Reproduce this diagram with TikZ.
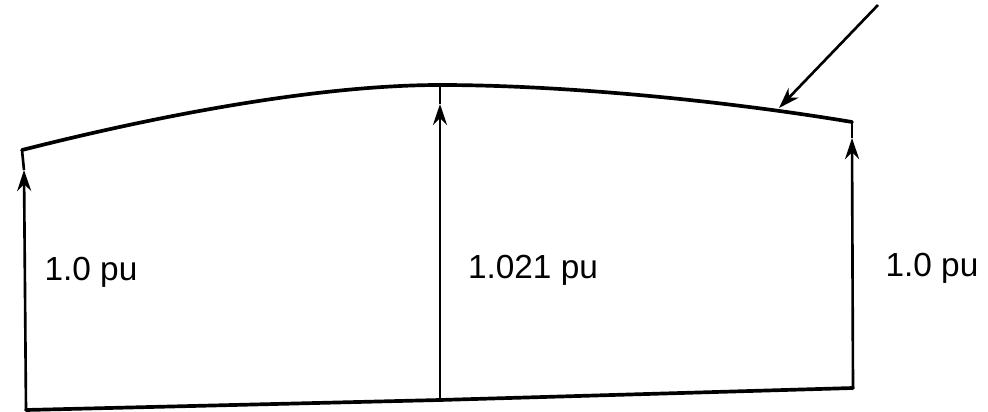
\documentclass[tikz,border=0pt]{standalone}
\usepackage{fontspec}
\setmainfont{Liberation Sans}
\usetikzlibrary{arrows.meta}
\tikzset{
	trait/.style={line width=2.1pt,line join=round,line cap=round},
	fleche/.style={line width=1.5pt,-{Stealth[length=12pt,width=8pt]}},
	etiq/.style={font=\fontsize{19}{21}\selectfont,inner sep=0pt}
}
\begin{document}
\begin{tikzpicture}[x=0.02cm,y=-0.02cm]
	\useasboundingbox (0,0) rectangle (988,412);
	% Points du bas
	\coordinate (bg) at (26,410); \coordinate (bm) at (440,400); \coordinate (bd) at (853,388);
	% Points du haut
	\coordinate (hg) at (22,150); \coordinate (hm) at (440,85); \coordinate (hd) at (852,122);
	% Pointes des fleches
	\coordinate (pg) at (24,170); \coordinate (pm) at (440,104); \coordinate (pd) at (852,138);
	%
	% Profil de tension
	\draw[trait] (hg) .. controls (180,110) and (330,85) .. (hm) .. controls (560,85) and (720,100) .. (hd);
	\draw[trait] (bg) -- (bm) -- (bd);
	%
	% Fleches verticales
	\draw[line width=1.5pt] (pg) -- (hg);
	\draw[line width=1.5pt] (pm) -- (hm);
	\draw[line width=1.5pt] (pd) -- (hd);
	\draw[fleche] (bg) -- (pg);
	\draw[fleche] (bm) -- (pm);
	\draw[fleche] (bd) -- (pd);
	%
	% Fleche oblique
	\coordinate (o1) at (878,5); \coordinate (o2) at (779,108);
	\draw[fleche] (o1) -- (o2);
	%
	% Valeurs
	\node[etiq] (vg) at (91,272) {1.0 pu};
	\node[etiq] (vm) at (533,270) {1.021 pu};
	\node[etiq] (vd) at (932,268) {1.0 pu};
\end{tikzpicture}
\end{document}
